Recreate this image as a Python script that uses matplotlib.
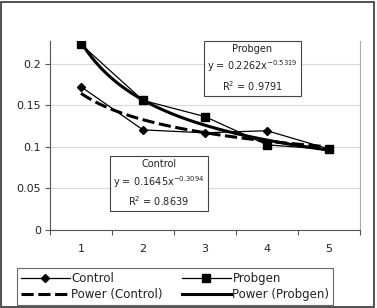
import numpy as np
import matplotlib
matplotlib.use("Agg")
import matplotlib.pyplot as plt
from matplotlib.patches import Rectangle

plt.rcParams['font.family'] = ['DejaVu Sans']

categories = [1, 2, 3, 4, 5]
control = [0.1725, 0.1205, 0.117, 0.1195, 0.0975]
probgen = [0.2235, 0.156, 0.1365, 0.1025, 0.097]
ctrl_coef = (0.1645, -0.3094)
prob_coef = (0.2262, -0.5319)
ctrl_r2 = 0.8639
prob_r2 = 0.9791
yticks = [0, 0.05, 0.1, 0.15, 0.2]
ytick_labels = ['0', '0.05', '0.1', '0.15', '0.2']

W, H = 377, 308
fig = plt.figure(figsize=(W/100, H/100), dpi=100)
ax = fig.add_axes([50/W, 1-230/H, 310/W, 189/H])

xs = np.linspace(1, 5, 200)
fs = 8
fs_box = 7
tc = '#222222'

l1, = ax.plot(categories, control, color='black', lw=0.9, marker='D', ms=4.5, zorder=3)
l2, = ax.plot(categories, probgen, color='black', lw=0.9, marker='s', ms=6, zorder=3)
l3, = ax.plot(xs, ctrl_coef[0]*xs**ctrl_coef[1], color='black', lw=2.2, ls=(0, (4, 1.5)), zorder=4)
l4, = ax.plot(xs, prob_coef[0]*xs**prob_coef[1], color='black', lw=2.2, zorder=4)

ax.set_xlim(0.5, 5.5)
ax.set_ylim(0, 0.2275)
ax.set_yticks(yticks)
ax.set_yticklabels(ytick_labels, fontsize=fs, color=tc)
ax.set_xticks(np.arange(0.5, 6, 1))
ax.set_xticklabels([])
ax.set_xticks(categories, minor=True)
ax.set_xticklabels([str(c) for c in categories], minor=True, fontsize=fs, color=tc)
ax.tick_params(axis='x', which='minor', length=0, pad=10)
ax.tick_params(axis='both', which='major', direction='out', length=3.5, width=0.8, color='#555555')
ax.tick_params(axis='y', pad=3)
ax.yaxis.grid(True, color='#d9d9d9', lw=0.8)
ax.set_axisbelow(True)
ax.spines['top'].set_visible(False)
ax.spines['right'].set_color('#aaaaaa')
ax.spines['left'].set_color('#555555')
ax.spines['bottom'].set_color('#555555')

box = dict(boxstyle='square,pad=0.3', fc='white', ec='#444444', lw=0.8)


def eq_text(name, coef, r2):
    return (f'{name}\ny = {coef[0]:.4f}x$^{{{coef[1]:.4f}}}$\n'
            f'R$^2$ = {r2:.4f}')


def to_axes(px, py):
    return (px-50)/310, (230-py)/189


ax.text(*to_axes(252.5, 68.5), eq_text('Probgen', prob_coef, prob_r2),
        transform=ax.transAxes, ha='center', va='center', fontsize=fs_box, linespacing=1.4,
        bbox=box, zorder=5, color=tc)
ax.text(*to_axes(159, 183.5), eq_text('Control', ctrl_coef, ctrl_r2),
        transform=ax.transAxes, ha='center', va='center', fontsize=fs_box, linespacing=1.4,
        bbox=box, zorder=5, color=tc)

leg = fig.legend([l1, l3, l2, l4], ['Control', 'Power (Control)', 'Probgen', 'Power (Probgen)'],
                 loc='center', bbox_to_anchor=(17/W, 1-306/H, 316/W, 39/H), mode='expand',
                 ncol=2, fontsize=8.5, frameon=True, fancybox=False, edgecolor='#444444',
                 handlelength=4.2, handletextpad=0.1, columnspacing=1.0, labelspacing=0.25,
                 borderpad=0.3, borderaxespad=0)
leg.get_frame().set_linewidth(0.8)
for t in leg.get_texts():
    t.set_color(tc)

fig.patches.append(Rectangle((1/W, 1/H), 373/W, 305/H, transform=fig.transFigure,
                             fill=False, ec='#333333', lw=1.2))

fig.savefig('out.png', dpi=100)
